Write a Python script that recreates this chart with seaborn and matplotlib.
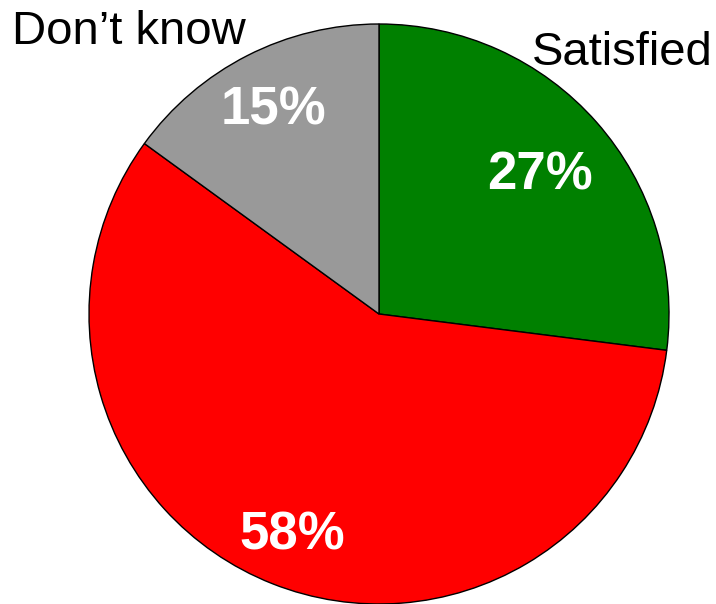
import matplotlib
matplotlib.use("Agg")
import matplotlib.pyplot as plt
import numpy as np
import seaborn as sns

categories = ["Satisfied", "Not satisfied", "Don\u2019t know"]
shares = [27, 58, 15]
shown_labels = ["Satisfied", "", "Don\u2019t know"]
slice_colors = ["#008000", "#FF0000", "#999999"]

sns.set_style("white")
plt.rcParams["font.family"] = ["Liberation Sans", "DejaVu Sans"]
plt.rcParams["text.color"] = "black"

fig = plt.figure(figsize=(7.16, 6.04), dpi=100)
# pie centre at (379, 314) px from top-left, radius 290 px
ax = fig.add_axes([89 / 716, 0.0, 580 / 716, 580 / 604])
ax.set_axis_off()

wedges, _ = ax.pie(shares, colors=slice_colors, startangle=90, counterclock=False,
                   radius=1, wedgeprops=dict(edgecolor="black", linewidth=1))
ax.set_xlim(-1, 1)
ax.set_ylim(-1, 1)

# percent labels sit at each wedge's mid angle
pct_dist = [0.74, 0.81, 0.80]
for w, val, d in zip(wedges, shares, pct_dist):
    mid = np.deg2rad((w.theta1 + w.theta2) / 2)
    ax.text(d * np.cos(mid), d * np.sin(mid) - 0.012, f"{val}%", color="white",
            fontsize=38, fontweight="bold", ha="center", va="center")

# outer category labels
ax.text(0.838, 0.859, shown_labels[0], fontsize=34, ha="center", va="baseline",
        color="black", clip_on=False)
ax.text(-0.862, 0.931, shown_labels[2], fontsize=34, ha="center", va="baseline",
        color="black", clip_on=False)

fig.savefig("out.png", dpi=100)
